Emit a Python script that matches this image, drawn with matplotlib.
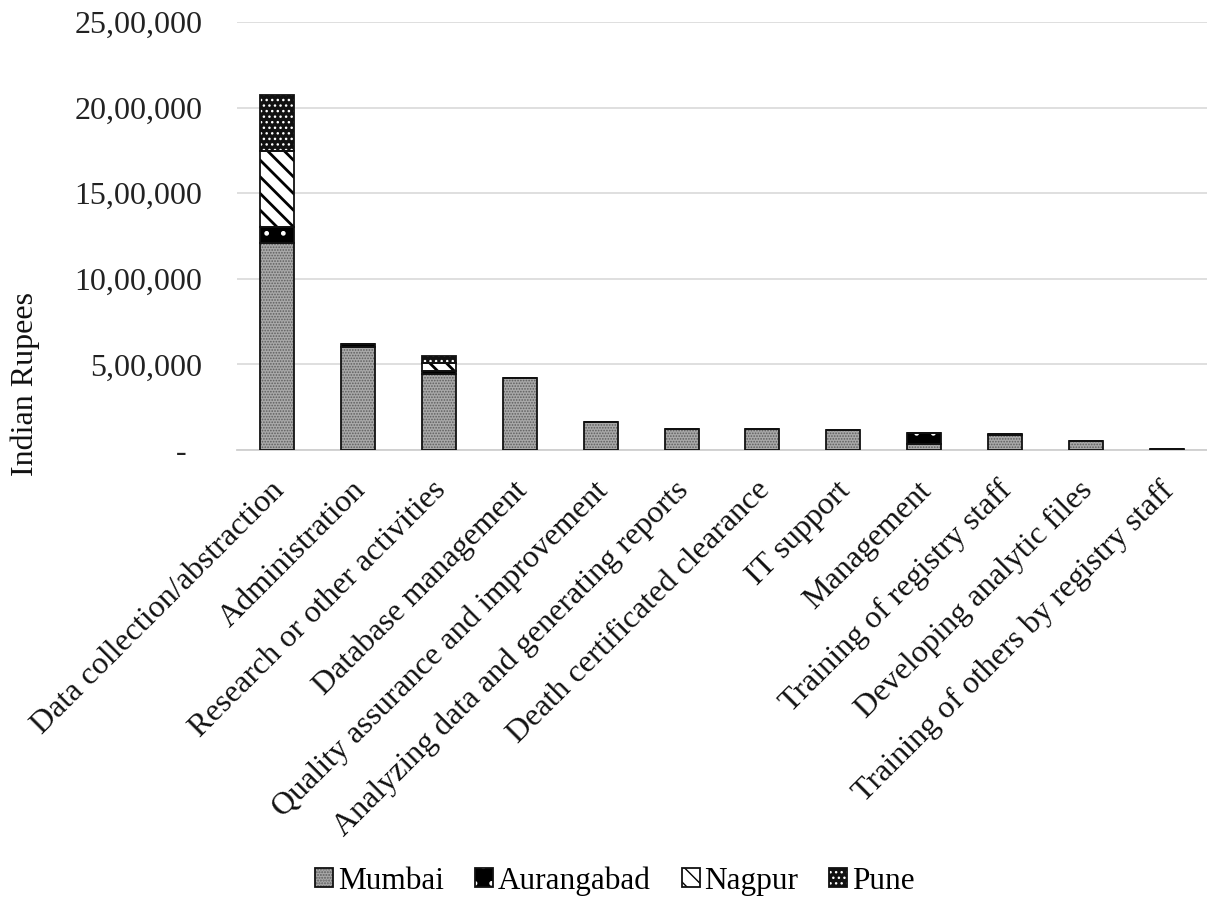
import matplotlib
matplotlib.use("Agg")
import matplotlib.pyplot as plt
import matplotlib.transforms as mtransforms
from matplotlib.ticker import FuncFormatter
import numpy as np

categories = [
    "Data collection/abstraction",
    "Administration",
    "Research or other activities",
    "Database management",
    "Quality assurance and improvement",
    "Analyzing data and generating reports",
    "Death certificated clearance",
    "IT support",
    "Management",
    "Training of registry staff",
    "Developing analytic files",
    "Training of others by registry staff",
]
mumbai = [1210000, 600000, 445000, 420000, 165000, 124000, 120000, 114000, 35000, 85000, 53000, 3000]
aurangabad = [95000, 19000, 15000, 0, 0, 0, 0, 0, 62000, 8000, 0, 0]
nagpur = [440000, 0, 50000, 0, 0, 0, 0, 0, 0, 0, 0, 0]
pune = [330000, 0, 40000, 0, 0, 0, 0, 0, 0, 0, 0, 0]

series = [
    ("Mumbai", mumbai, "#a9a9a9", "#5e5e5e", "......"),
    ("Aurangabad", aurangabad, "#000000", "#ffffff", "."),
    ("Nagpur", nagpur, "#ffffff", "#000000", "\\\\"),
    ("Pune", pune, "#111111", "#ffffff", "..."),
]
hatch_lw = {"Mumbai": 0.8, "Aurangabad": 1.0, "Nagpur": 2.0, "Pune": 1.0}

plt.rcParams["font.family"] = ["Liberation Serif", "DejaVu Serif"]

fig = plt.figure(figsize=(12.07, 9.01), dpi=100)
ax = fig.add_axes([237 / 1207, 1 - 450 / 901, 970 / 1207, 428 / 901])

x = np.arange(len(categories))
width = 0.42
bottom = np.zeros(len(categories))
handles = []
for name, vals, fc, hc, hatch in series:
    vals = np.array(vals, dtype=float)
    with plt.rc_context({"hatch.linewidth": hatch_lw[name]}):
        fill = ax.bar(x, vals, width, bottom=bottom, facecolor=fc, edgecolor=hc,
                      hatch=hatch, linewidth=0, zorder=3)
        for p in fill:
            if hasattr(p, "set_hatch_linewidth"):
                p.set_hatch_linewidth(hatch_lw[name])
    outline = ax.bar(x, vals, width, bottom=bottom, fill=False, edgecolor="#111111",
                     linewidth=1.3, zorder=4)
    handles.append(((fill[0], outline[0]), name))
    bottom += vals

ax.set_xlim(-0.5, len(categories) - 0.5)
ax.set_ylim(0, 2500000)
ax.set_yticks(np.arange(0, 2500001, 500000))


def indian(v, pos):
    v = int(round(v))
    if v == 0:
        return "-  "
    s = str(v)
    last3 = s[-3:]
    rest = s[:-3]
    groups = []
    while len(rest) > 2:
        groups.insert(0, rest[-2:])
        rest = rest[:-2]
    if rest:
        groups.insert(0, rest)
    return ",".join(groups + [last3])


ax.yaxis.set_major_formatter(FuncFormatter(indian))
ax.tick_params(axis="y", length=0, pad=25, labelsize=23, labelcolor="#222222")
ax.grid(axis="y", color="#dcdcdc", linewidth=1.3, zorder=0)
for s in ["top", "right", "left"]:
    ax.spines[s].set_visible(False)
ax.spines["bottom"].set_color("#cfcfcf")
ax.spines["bottom"].set_linewidth(1.3)

ax.set_xticks(x)
ax.set_xticklabels(categories, rotation=45, ha="right", va="center",
                   rotation_mode="anchor", fontsize=23, color="#111111")
ax.tick_params(axis="x", length=0, pad=26)
offset = mtransforms.ScaledTranslation(3 / 100, 0, fig.dpi_scale_trans)
for lbl in ax.get_xticklabels():
    lbl.set_transform(lbl.get_transform() + offset)

fig.text(25 / 1207, 1 - 384 / 901, "Indian Rupees", rotation=90, ha="center",
         va="center", fontsize=23, color="#111111")

fig.legend([h for h, _ in handles], [n for _, n in handles], loc="center",
           bbox_to_anchor=(615 / 1207, 1 - 881 / 901), ncol=4, frameon=False,
           fontsize=22.5, handlelength=0.57, handleheight=0.57, handletextpad=0.15,
           columnspacing=1.0, borderpad=0.2)

fig.savefig("out.png", dpi=100)
